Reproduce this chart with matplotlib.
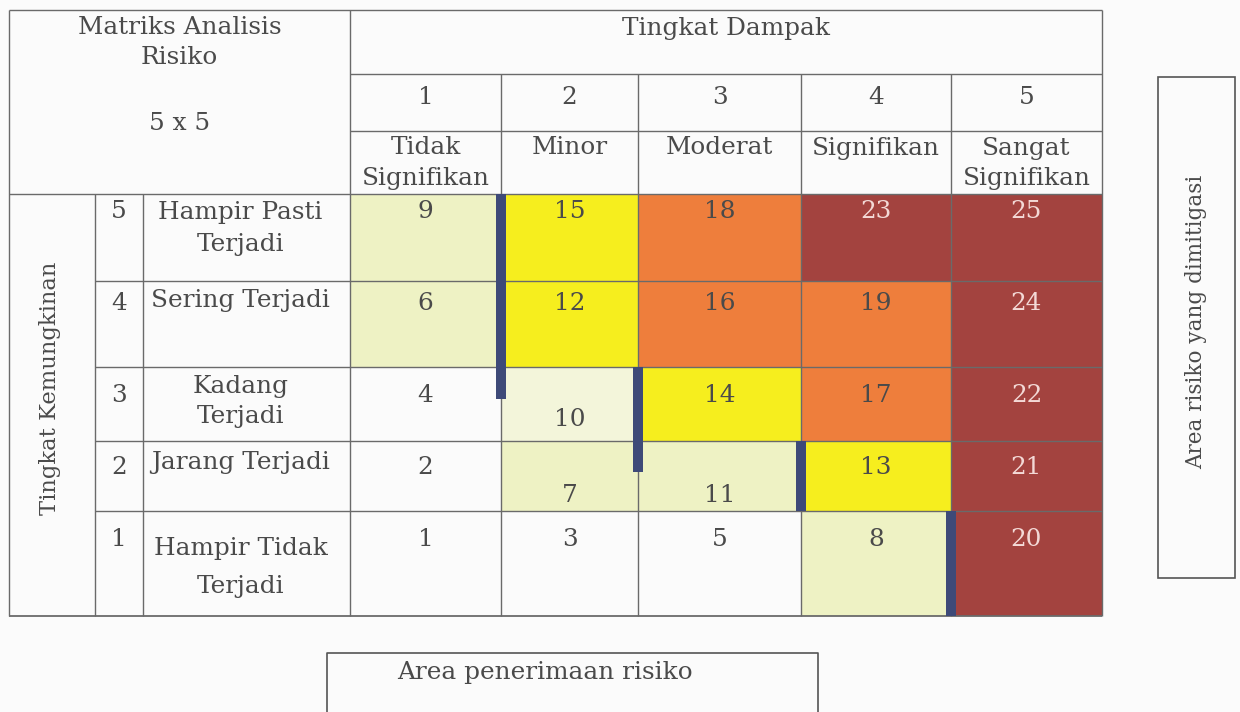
import matplotlib
matplotlib.use("Agg")
import matplotlib.pyplot as plt
from matplotlib.patches import Rectangle

# ---------------- data ----------------
title_lines = ["Matriks Analisis", "Risiko"]
size_label = "5 x 5"
impact_title = "Tingkat Dampak"
impact_levels = [1, 2, 3, 4, 5]
impact_labels = [["Tidak", "Signifikan"], ["Minor"], ["Moderat"], ["Signifikan"], ["Sangat", "Signifikan"]]
likelihood_title = "Tingkat Kemungkinan"
likelihood_levels = [5, 4, 3, 2, 1]
likelihood_labels = [["Hampir Pasti", "Terjadi"], ["Sering Terjadi"], ["Kadang", "Terjadi"],
                     ["Jarang Terjadi"], ["Hampir Tidak", "Terjadi"]]
scores = [
    [9, 15, 18, 23, 25],
    [6, 12, 16, 19, 24],
    [4, 10, 14, 17, 22],
    [2, 7, 11, 13, 21],
    [1, 3, 5, 8, 20],
]
# zone codes: W white, P pale (acceptance), Q paler acceptance, Y yellow, O orange, R dark red
zones = [
    ["P", "Y", "O", "R", "R"],
    ["P", "Y", "O", "O", "R"],
    ["W", "Q", "Y", "O", "R"],
    ["W", "P", "P", "Y", "R"],
    ["W", "W", "W", "P", "R"],
]
mitigate_label = "Area risiko yang dimitigasi"
accept_label = "Area penerimaan risiko"

# ---------------- style / layout ----------------
zone_colors = {"W": "#fbfbfb", "P": "#eef2c4", "Q": "#f3f5da", "Y": "#f6ee1e",
               "O": "#ee7e3c", "R": "#a3433f"}
text_col = "#4a4a4a"
light_text = "#f3d9d6"
line_col = "#6a6a6a"
thick_col = "#3e4a78"
FONT = "DejaVu Serif"
FS = 17.8
FS_SIDE = 16.3
FS_BOX = 15.5

plt.rcParams["font.family"] = [FONT, "DejaVu Sans"]

fig = plt.figure(figsize=(12.4, 7.12), dpi=100, facecolor="#fbfbfb")
ax = fig.add_axes([0, 0, 1, 1])
ax.set_xlim(0, 1240)
ax.set_ylim(712, 0)
ax.axis("off")
ax.set_facecolor("#fbfbfb")

x_left, x_num, x_lab, x_grid = 9, 95, 143, 350
col_edges = [350, 501, 638, 801, 951, 1102]
y_top, y_h1, y_h2, y_grid = 10, 74, 131, 194
row_edges = [194, 281, 367, 441, 511, 616]
row_text_y = [211, 303, 395, 467, 540]
label_line_y = [[212, 245], [300], [387, 417], [462], [548, 587]]
low_number_y = {(2, 1): 420, (3, 1): 495, (3, 2): 495}
thick_overhang = {1: 32, 2: 31}
thick_w = 10

def txt(x, y, s, color=text_col, **kw):
    kw.setdefault("ha", "center")
    kw.setdefault("va", "center")
    ax.text(x, y, s, color=color, fontsize=kw.pop("fs", FS), family=[FONT, "DejaVu Sans"], **kw)

# coloured cells
for r in range(5):
    for c in range(5):
        z = zones[r][c]
        ax.add_patch(Rectangle((col_edges[c], row_edges[r]), col_edges[c + 1] - col_edges[c],
                               row_edges[r + 1] - row_edges[r], facecolor=zone_colors[z],
                               edgecolor="none", zorder=1))

def hline(y, x0, x1, lw=1.0):
    ax.plot([x0, x1], [y, y], color=line_col, lw=lw, zorder=3, solid_capstyle="butt")

def vline(x, y0, y1, lw=1.0):
    ax.plot([x, x], [y0, y1], color=line_col, lw=lw, zorder=3, solid_capstyle="butt")

# outer border
right = col_edges[-1]
bottom = row_edges[-1]
hline(y_top, x_left, right)
hline(bottom, x_left, right, lw=1.3)
vline(x_left, y_top, bottom)
vline(right, y_top, bottom)
# header lines
hline(y_h1, x_grid, right)
hline(y_h2, x_grid, right)
hline(y_grid, x_left, right)
vline(x_grid, y_top, bottom)
for x in col_edges[1:-1]:
    vline(x, y_h1, bottom)
# left columns
vline(x_num, y_grid, bottom)
vline(x_lab, y_grid, bottom)
for y in row_edges[1:-1]:
    hline(y, x_num, right)

# thick boundary of acceptance area (derived from zones)
bcols = []
for r in range(5):
    last = max(c for c in range(5) if zones[r][c] in ("P", "Q"))
    bcols.append(last + 1)
r = 0
while r < 5:
    b = bcols[r]
    r2 = r
    while r2 + 1 < 5 and bcols[r2 + 1] == b:
        r2 += 1
    y0 = row_edges[r]
    y1 = row_edges[r2 + 1] + thick_overhang.get(b, 0)
    x = col_edges[b]
    ax.add_patch(Rectangle((x - thick_w / 2, y0), thick_w, y1 - y0, facecolor=thick_col,
                           edgecolor="none", zorder=4))
    r = r2 + 1

# header text
txt((x_left + x_grid) / 2, 28, title_lines[0])
txt((x_left + x_grid) / 2, 58, title_lines[1])
txt((x_left + x_grid) / 2, 124, size_label)
txt((x_grid + right) / 2, 28, impact_title)
for i, lvl in enumerate(impact_levels):
    cx = (col_edges[i] + col_edges[i + 1]) / 2
    txt(cx, 98, str(lvl))
    for j, line in enumerate(impact_labels[i]):
        txt(cx, 148 + 31 * j, line)

# likelihood side
txt((x_left + x_num) / 2 - 2, 388, likelihood_title, rotation=90, fs=FS_SIDE)
for r, lvl in enumerate(likelihood_levels):
    txt((x_num + x_lab) / 2, row_text_y[r], str(lvl))
    for line, y in zip(likelihood_labels[r], label_line_y[r]):
        txt((x_lab + x_grid) / 2 - 6, y, line)

# scores
for r in range(5):
    for c in range(5):
        cx = (col_edges[c] + col_edges[c + 1]) / 2
        y = low_number_y.get((r, c), row_text_y[r])
        col = light_text if zones[r][c] == "R" else text_col
        txt(cx, y, str(scores[r][c]), color=col)

# side box
ax.add_patch(Rectangle((1158, 77), 1235 - 1158, 578 - 77, facecolor="none",
                       edgecolor="#555555", lw=1.2, zorder=3))
txt(1196, 322, mitigate_label, rotation=90, fs=FS_BOX)

# bottom box (cut at the image edge)
ax.plot([327, 327, 818, 818], [720, 653, 653, 720], color="#555555", lw=1.2, zorder=3)
txt(397, 673, accept_label, ha="left")

fig.savefig("out.png", dpi=100, facecolor=fig.get_facecolor())
